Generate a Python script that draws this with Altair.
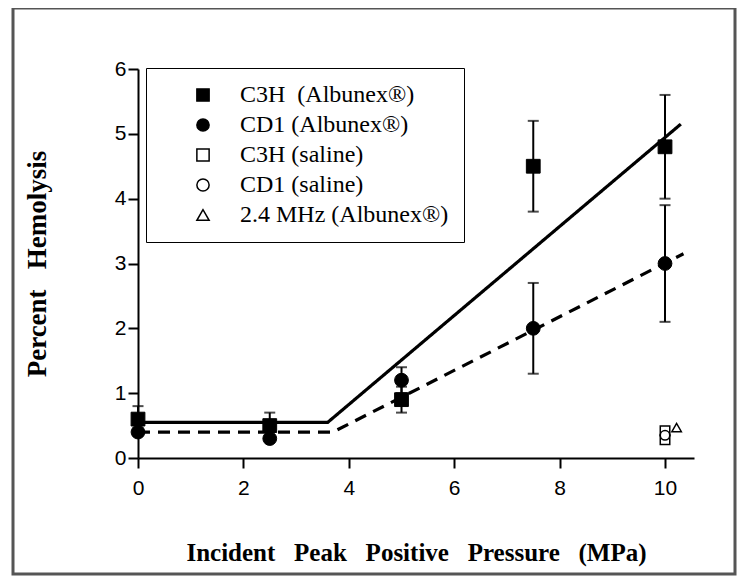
import altair as alt
import pandas as pd

# ---- data ----
series_names = ["C3H\u00a0\u00a0(Albunex®)", "CD1 (Albunex®)", "C3H (saline)", "CD1 (saline)", "2.4 MHz (Albunex®)"]
shapes = ["square", "circle", "square", "circle", "triangle-up"]
fills = ["black", "black", "white", "white", "white"]

c3h_x = [0, 2.5, 5, 7.5, 10]
c3h_y = [0.6, 0.5, 0.9, 4.5, 4.8]
c3h_err = [0.2, 0.2, 0.2, 0.7, 0.8]

cd1_x = [0, 2.5, 5, 7.5, 10]
cd1_y = [0.4, 0.3, 1.2, 2.0, 3.0]
cd1_err = [0.0, 0.0, 0.2, 0.7, 0.9]

c3h_sal_x = [10, 10]
c3h_sal_y = [0.42, 0.28]
cd1_sal_x = [10]
cd1_sal_y = [0.35]
mhz_x = [10.22]
mhz_y = [0.47]

fit_c3h_x = [0, 3.6, 10.3]
fit_c3h_y = [0.55, 0.55, 5.15]
fit_cd1_x = [0, 3.7, 10.35]
fit_cd1_y = [0.4, 0.4, 3.15]

x_ticks = [0, 2, 4, 6, 8, 10]
y_ticks = [0, 1, 2, 3, 4, 5, 6]

# ---- tables ----
filled = pd.DataFrame({
    "x": c3h_x + cd1_x,
    "y": c3h_y + cd1_y,
    "err": c3h_err + cd1_err,
    "series": [series_names[0]] * len(c3h_x) + [series_names[1]] * len(cd1_x),
})
filled["lo"] = filled["y"] - filled["err"]
filled["hi"] = filled["y"] + filled["err"]
bars = filled[filled["err"] > 0]

openpts = pd.DataFrame({
    "x": c3h_sal_x + cd1_sal_x + mhz_x,
    "y": c3h_sal_y + cd1_sal_y + mhz_y,
    "series": [series_names[2]] * len(c3h_sal_x) + [series_names[3]] * len(cd1_sal_x)
              + [series_names[4]] * len(mhz_x),
})

fits = pd.DataFrame({
    "x": fit_c3h_x + fit_cd1_x,
    "y": fit_c3h_y + fit_cd1_y,
    "fit": ["C3H"] * 3 + ["CD1"] * 3,
})

xs = alt.Scale(domain=[0, 10.55], nice=False, zero=False)
ys = alt.Scale(domain=[0, 6], nice=False)

sp3 = "\u00a0\u00a0\u00a0"
X = alt.X("x:Q", scale=xs, axis=alt.Axis(
    values=x_ticks, format="d", labelFlush=False,
    title=f"Incident{sp3}Peak{sp3}Positive{sp3}Pressure{sp3}(MPa)",
    titlePadding=42, labelPadding=9, titleFontSize=25))
Y = alt.Y("y:Q", scale=ys, axis=alt.Axis(
    values=y_ticks, format="d", labelFlush=False,
    title=f"Percent{sp3}Hemolysis", titlePadding=63, titleFontSize=27))

shape_scale = alt.Scale(domain=series_names, range=shapes)
fill_scale = alt.Scale(domain=series_names, range=fills)
stroke_scale = alt.Scale(domain=series_names, range=["black"] * 5)

legend = alt.Legend(
    title=None, orient="none", legendX=8, legendY=-1,
    strokeColor="black", fillColor="white", padding=15,
    symbolOffset=30, labelOffset=25, rowPadding=6, labelLimit=0,
    labelFont="Liberation Serif", labelFontSize=24, labelColor="black",
    symbolStrokeColor="black", symbolStrokeWidth=1.5, symbolSize=150,
)

frame = alt.Chart(pd.DataFrame({"k": [0]})).mark_rect(
    fill=None, stroke="#555555", strokeWidth=3, clip=False
).encode(x=alt.value(-125), x2=alt.value(597), y=alt.value(-61), y2=alt.value(505))

lines = alt.Chart(fits).mark_line(color="black", strokeWidth=3.2).encode(
    x=X, y=Y,
    detail="fit:N",
    strokeDash=alt.StrokeDash("fit:N", scale=alt.Scale(domain=["C3H", "CD1"], range=[[1, 0], [12, 8]]), legend=None),
)

rules = alt.Chart(bars).mark_rule(color="black", strokeWidth=2).encode(
    x="x:Q", y="lo:Q", y2="hi:Q")
cap_lo = alt.Chart(bars).mark_tick(color="black", thickness=2, size=11, orient="horizontal").encode(
    x="x:Q", y="lo:Q")
cap_hi = alt.Chart(bars).mark_tick(color="black", thickness=2, size=11, orient="horizontal").encode(
    x="x:Q", y="hi:Q")

pts_f = alt.Chart(filled).mark_point(filled=True, size=190, strokeWidth=1, opacity=1).encode(
    x="x:Q", y="y:Q",
    shape=alt.Shape("series:N", scale=shape_scale, legend=legend),
    fill=alt.Fill("series:N", scale=fill_scale, legend=legend),
    stroke=alt.Stroke("series:N", scale=stroke_scale, legend=legend),
)
pts_o = alt.Chart(openpts).mark_point(filled=True, size=90, strokeWidth=1.5, opacity=1).encode(
    x="x:Q", y="y:Q",
    shape=alt.Shape("series:N", scale=shape_scale, legend=legend),
    fill=alt.Fill("series:N", scale=fill_scale, legend=legend),
    stroke=alt.Stroke("series:N", scale=stroke_scale, legend=legend),
)

chart = alt.layer(frame, lines, rules, cap_lo, cap_hi, pts_f, pts_o).properties(
    width=556, height=389,
    autosize=alt.AutoSizeParams(type="none"),
    padding={"left": 130, "top": 61, "right": 50, "bottom": 121},
    background="white",
).configure_view(stroke=None).configure_axis(
    grid=False, domainColor="black", domainWidth=2, tickColor="black", tickWidth=2,
    tickSize=10, labelFont="Liberation Sans", labelFontSize=21, labelColor="black",
    titleFont="Liberation Serif", titleFontWeight="bold",
    titleColor="black",
)

chart.save("out.html", embed_options={"renderer": "svg", "actions": False})
